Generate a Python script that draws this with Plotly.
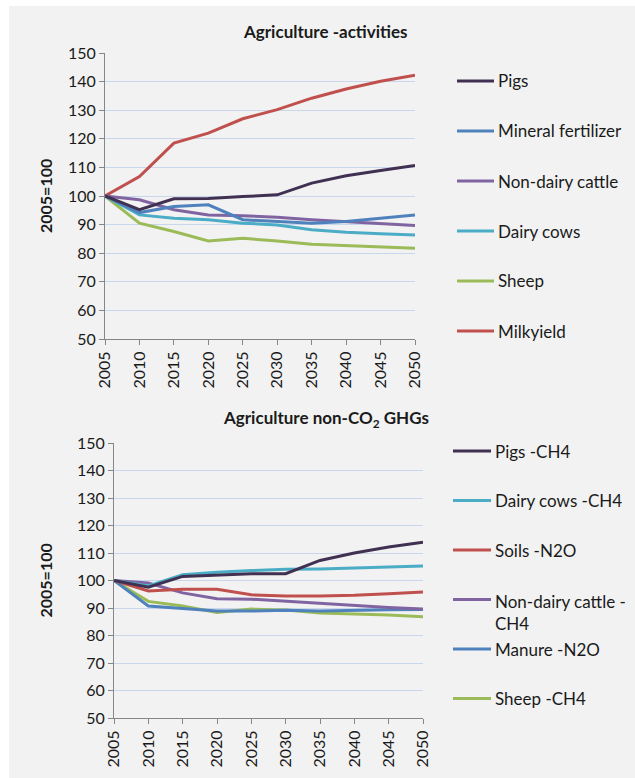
import plotly.graph_objects as go

W, H = 635, 778

years = [2005, 2010, 2015, 2020, 2025, 2030, 2035, 2040, 2045, 2050]

# Agriculture - activities (index, 2005 = 100)
act_names = ["Pigs", "Mineral fertilizer", "Non-dairy cattle", "Dairy cows", "Sheep", "Milkyield"]
act_pigs = [100, 95.2, 99.0, 99.1, 99.8, 100.4, 104.5, 107.1, 108.9, 110.7]
act_fertilizer = [100, 94.2, 96.3, 96.9, 91.7, 91.1, 90.5, 91.1, 92.2, 93.4]
act_nondairy = [100, 98.7, 95.2, 93.4, 93.1, 92.6, 91.7, 91.1, 90.5, 89.7]
act_dairy = [100, 93.4, 92.2, 91.7, 90.5, 89.9, 88.2, 87.3, 86.8, 86.4]
act_sheep = [100, 90.5, 87.6, 84.3, 85.2, 84.3, 83.1, 82.6, 82.3, 81.7]
act_milk = [100, 106.8, 118.5, 122.0, 127.0, 130.2, 134.2, 137.4, 140.1, 142.2]

# Agriculture non-CO2 GHGs (index, 2005 = 100)
ghg_names = ["Pigs -CH4", "Dairy cows -CH4", "Soils -N2O", "Non-dairy cattle -<br>CH4",
             "Manure -N2O", "Sheep -CH4"]
ghg_pigs = [100, 97.6, 101.5, 101.9, 102.5, 102.5, 107.3, 110.0, 112.2, 113.9]
ghg_dairy = [100, 98.0, 102.1, 103.0, 103.6, 104.1, 104.2, 104.5, 104.9, 105.3]
ghg_soils = [100, 96.2, 96.8, 96.8, 94.8, 94.4, 94.4, 94.6, 95.2, 95.8]
ghg_nondairy = [100, 99.1, 95.5, 93.4, 93.2, 92.4, 91.6, 90.8, 90.2, 89.6]
ghg_manure = [100, 90.7, 89.8, 88.9, 88.9, 89.2, 88.9, 89.2, 89.4, 89.5]
ghg_sheep = [100, 92.4, 90.7, 88.4, 89.6, 89.3, 88.2, 87.8, 87.5, 86.8]

y_ticks = [50, 60, 70, 80, 90, 100, 110, 120, 130, 140, 150]

C_PIGS = "#403152"
C_BLUE = "#4f81bd"
C_PURPLE = "#8064a2"
C_CYAN = "#4bacc6"
C_GREEN = "#9bbb59"
C_RED = "#c0504d"

act_series = [
    (act_names[0], act_pigs, C_PIGS),
    (act_names[1], act_fertilizer, C_BLUE),
    (act_names[2], act_nondairy, C_PURPLE),
    (act_names[3], act_dairy, C_CYAN),
    (act_names[4], act_sheep, C_GREEN),
    (act_names[5], act_milk, C_RED),
]
ghg_series = [
    (ghg_names[0], ghg_pigs, C_PIGS),
    (ghg_names[1], ghg_dairy, C_CYAN),
    (ghg_names[2], ghg_soils, C_RED),
    (ghg_names[3], ghg_nondairy, C_PURPLE),
    (ghg_names[4], ghg_manure, C_BLUE),
    (ghg_names[5], ghg_sheep, C_GREEN),
]

FONT = "Lato, 'Open Sans', sans-serif"
TXT = "#1a1a1a"


def px(x):
    return x / W


def py(y):
    return 1 - y / H


fig = go.Figure()

for name, vals, col in act_series[::-1]:
    fig.add_trace(go.Scatter(x=years, y=vals, mode="lines", name=name,
                             line=dict(color=col, width=3), showlegend=False,
                             xaxis="x", yaxis="y"))
for name, vals, col in ghg_series[::-1]:
    fig.add_trace(go.Scatter(x=years, y=vals, mode="lines", name=name,
                             line=dict(color=col, width=3), showlegend=False,
                             xaxis="x2", yaxis="y2"))

axis_common = dict(
    showline=True, linecolor="#868686", linewidth=1,
    ticks="outside", ticklen=5, tickcolor="#868686",
    tickfont=dict(family=FONT, size=16, color=TXT),
    zeroline=False, automargin=False,
)

xcommon = dict(axis_common, range=[2005, 2050], tickvals=years, tickangle=-90,
               showgrid=False)
ycommon = dict(axis_common, range=[50, 150], tickvals=y_ticks, showgrid=True,
               gridcolor="#c9d7ec", gridwidth=1)

# plot-area pixel boxes
TOP = dict(l=105, r=415, t=53, b=339)
BOT = dict(l=114, r=423, t=443, b=718)

fig.update_layout(
    template="none",
    width=W, height=H,
    margin=dict(l=0, r=0, t=0, b=0, pad=0),
    paper_bgcolor="white",
    plot_bgcolor="white",
    xaxis=dict(xcommon, domain=[px(TOP["l"]), px(TOP["r"])], anchor="y"),
    yaxis=dict(ycommon, domain=[py(TOP["b"]), py(TOP["t"])], anchor="x"),
    xaxis2=dict(xcommon, domain=[px(BOT["l"]), px(BOT["r"])], anchor="y2"),
    yaxis2=dict(ycommon, domain=[py(BOT["b"]), py(BOT["t"])], anchor="x2"),
    showlegend=False,
)

# light grey chart background
fig.add_shape(type="rect", xref="paper", yref="paper", x0=px(9), x1=1, y0=0, y1=py(6),
              fillcolor="#f2f2f2", line=dict(width=0), layer="below")

annotations = [
    dict(text="<b>Agriculture -activities</b>", x=px(325), y=py(32)),
    dict(text="<b>Agriculture non-CO<sub>2</sub> GHGs</b>", x=px(326), y=py(419)),
]
for a in annotations:
    fig.add_annotation(xref="paper", yref="paper", xanchor="center", yanchor="middle",
                       showarrow=False, font=dict(family=FONT, size=17, color=TXT), **a)

for yc in [(TOP["t"] + TOP["b"]) / 2, (BOT["t"] + BOT["b"]) / 2]:
    fig.add_annotation(text="<b>2005=100</b>", xref="paper", yref="paper",
                       x=px(45), y=py(yc), textangle=-90, showarrow=False,
                       xanchor="center", yanchor="middle",
                       font=dict(family=FONT, size=16, color=TXT))


def legend(series, x0, x1, y_first, step):
    for i, (name, _, col) in enumerate(series):
        yy = y_first + i * step
        fig.add_shape(type="line", xref="paper", yref="paper",
                      x0=px(x0), x1=px(x1), y0=py(yy), y1=py(yy),
                      line=dict(color=col, width=3))
        multiline = "<br>" in name
        fig.add_annotation(text=name, xref="paper", yref="paper",
                           x=px(x1 + 2), y=py(yy - (11 if multiline else 0)),
                           xanchor="left", yanchor="top" if multiline else "middle",
                           align="left", showarrow=False,
                           font=dict(family=FONT, size=17, color=TXT))


legend(act_series, 457, 494, 81, 50)
legend(ghg_series, 453, 491, 451, 49.5)

fig.write_html("out.html")
